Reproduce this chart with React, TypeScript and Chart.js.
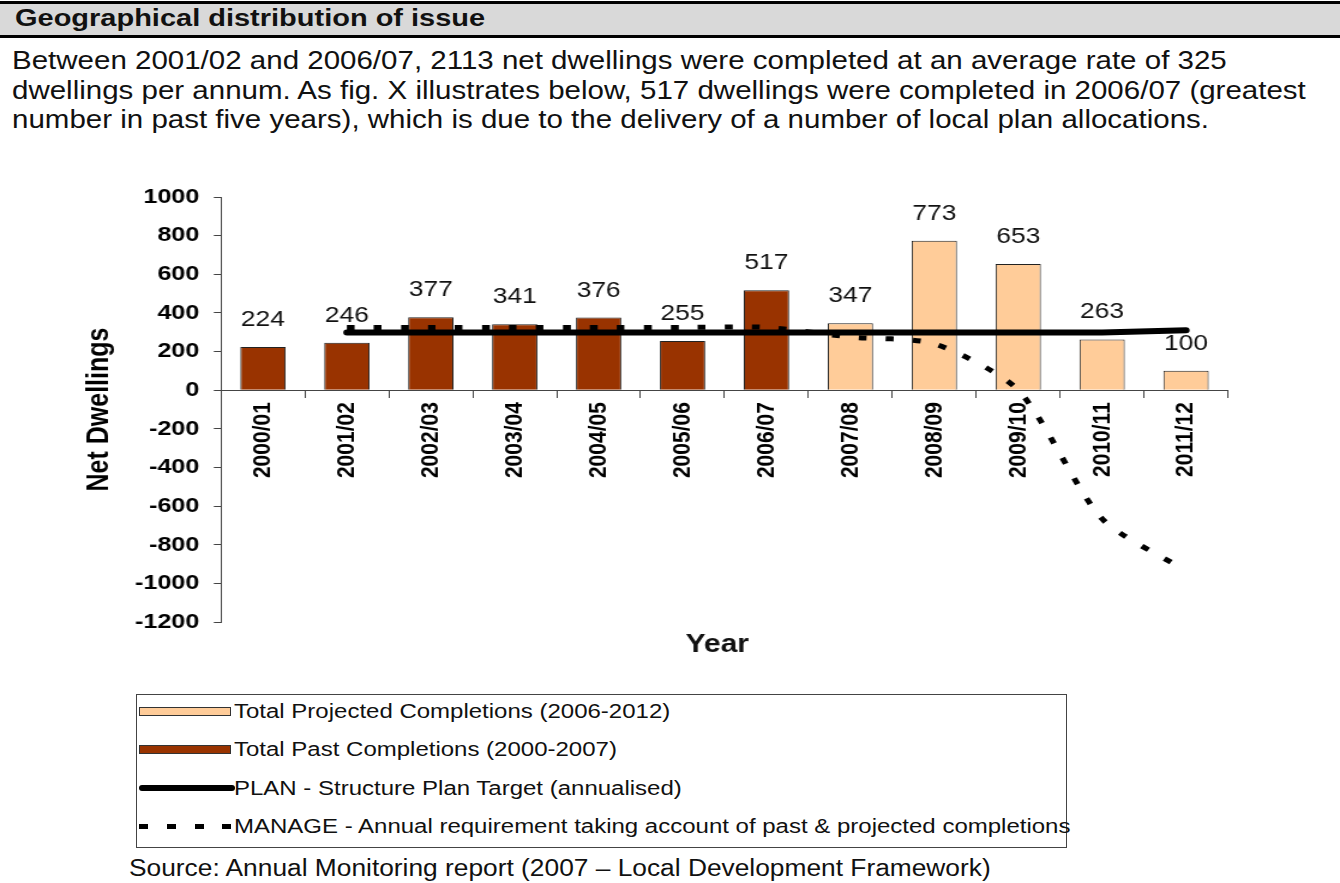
import React, { useEffect, useRef } from "react";
import { Chart, registerables } from "chart.js";

Chart.register(...registerables);

const categories = ["2000/01", "2001/02", "2002/03", "2003/04", "2004/05", "2005/06", "2006/07", "2007/08", "2008/09", "2009/10", "2010/11", "2011/12"];
const pastCompletions = [224, 246, 377, 341, 376, 255, 517, null, null, null, null, null];
const projectedCompletions = [null, null, null, null, null, null, null, 347, 773, 653, 263, 100];
const planTarget = [null, 298, 298, 298, 298, 298, 298, 298, 298, 298, 298, 310];
const manageRequirement = [null, 325, 325, 325, 325, 325, 325, 275, 240, 0, -666, -935];
const yMin = -1200;
const yMax = 1000;
const yStep = 200;

const FONT = "'Liberation Sans', Arial, sans-serif";
const PAST_COLOR = "#993300";
const PROJ_COLOR = "#ffcc99";

// canvas is drawn narrower and stretched horizontally, like the reference image
const CANVAS_W = 1117;
const CANVAS_H = 500;
const SX = 1340 / CANVAS_W;

const labelPlugin = {
  id: "barValueLabels",
  afterDatasetsDraw(chart: any) {
    const ctx = chart.ctx;
    ctx.save();
    ctx.font = `22px ${FONT}`;
    ctx.fillStyle = "#111";
    ctx.textAlign = "center";
    ctx.textBaseline = "middle";
    chart.data.datasets.forEach((ds: any, di: number) => {
      if (ds.type !== "bar") return;
      const meta = chart.getDatasetMeta(di);
      ds.data.forEach((v: any, i: number) => {
        if (v === null || v === undefined) return;
        const el = meta.data[i];
        ctx.fillText(String(v), el.x, el.y - 27);
      });
    });
    const area = chart.chartArea;
    ctx.font = `bold 25px ${FONT}`;
    ctx.fillText("Year", (area.left + area.right) / 2 - 6, area.bottom + 23);
    ctx.restore();
  },
};

function ChartCanvas() {
  const ref = useRef<HTMLCanvasElement | null>(null);
  useEffect(() => {
    if (!ref.current) return;
    const chart = new Chart(ref.current, {
      type: "bar",
      data: {
        labels: categories,
        datasets: [
          {
            type: "line",
            label: "PLAN - Structure Plan Target (annualised)",
            data: planTarget,
            borderColor: "#000",
            borderWidth: 6,
            pointRadius: 0,
            borderCapStyle: "round",
            tension: 0,
            order: 1,
          } as any,
          {
            type: "line",
            label: "MANAGE - Annual requirement taking account of past & projected completions",
            data: manageRequirement,
            borderColor: "#000",
            borderWidth: 5,
            borderDash: [6.5, 16],
            pointRadius: 0,
            tension: 0.25,
            order: 2,
          } as any,
          {
            type: "bar",
            label: "Total Projected Completions (2006-2012)",
            data: projectedCompletions,
            backgroundColor: PROJ_COLOR,
            borderColor: "#222",
            borderWidth: 1,
            grouped: false,
            barPercentage: 0.54,
            categoryPercentage: 1,
            order: 3,
          } as any,
          {
            type: "bar",
            label: "Total Past Completions (2000-2007)",
            data: pastCompletions,
            backgroundColor: PAST_COLOR,
            borderColor: "#222",
            borderWidth: 1,
            grouped: false,
            barPercentage: 0.54,
            categoryPercentage: 1,
            order: 3,
          } as any,
        ],
      },
      options: {
        animation: false,
        responsive: false,
        maintainAspectRatio: false,
        layout: { padding: { left: 0, right: CANVAS_W - 1228 / SX, top: 27, bottom: 48 } },
        plugins: {
          legend: { display: false },
          tooltip: { enabled: false },
        },
        scales: {
          x: {
            type: "category",
            position: { y: 0 } as any,
            offset: true,
            grid: { offset: true, drawOnChartArea: false, drawTicks: true, tickLength: 7, color: "#444" },
            border: { display: true, color: "#444", width: 1 },
            ticks: {
              autoSkip: false,
              maxRotation: 90,
              minRotation: 90,
              padding: 5,
              color: "#000",
              font: { family: FONT, size: 21, weight: "bold" },
            },
          },
          y: {
            min: yMin,
            max: yMax,
            afterFit: (s: any) => {
              s.width = 221 / SX;
            },
            grid: { drawOnChartArea: false, drawTicks: true, tickLength: 6, color: "#444" },
            border: { display: true, color: "#444", width: 1 },
            ticks: {
              stepSize: yStep,
              padding: 12,
              color: "#000",
              font: { family: FONT, size: 21, weight: "bold" },
              callback: (v: any) => String(v),
            },
            title: {
              display: true,
              text: "Net Dwellings",
              color: "#000",
              font: { family: FONT, size: 25, weight: "bold" },
              padding: { top: 68, bottom: 0 },
            },
          },
        },
      },
      plugins: [labelPlugin],
    });
    return () => chart.destroy();
  }, []);
  return (
    <canvas
      ref={ref}
      width={CANVAS_W}
      height={CANVAS_H}
      style={{ position: "absolute", left: 0, top: 170, width: 1340, height: CANVAS_H }}
    />
  );
}

function Stretched(props: { left: number; top: number; size: number; sx: number; bold?: boolean; lh?: number; children: React.ReactNode }) {
  return (
    <div
      style={{
        position: "absolute",
        left: props.left,
        top: props.top,
        fontSize: props.size,
        fontWeight: props.bold ? "bold" : "normal",
        lineHeight: `${props.lh ?? props.size * 1.15}px`,
        whiteSpace: "nowrap",
        transform: `scaleX(${props.sx})`,
        transformOrigin: "0 0",
      }}
    >
      {props.children}
    </div>
  );
}

function Legend() {
  const rows = [711, 749, 788, 826];
  const textLeft = 234;
  const swatch = (y: number, color: string) => (
    <div style={{ position: "absolute", left: 139, top: y - 4, width: 92, height: 9, background: color, border: "1px solid #333", boxSizing: "border-box" }} />
  );
  const text = (y: number, t: string) => (
    <Stretched left={textLeft} top={y - 12} size={20} sx={1.2} lh={24}>
      {t}
    </Stretched>
  );
  return (
    <>
      <div
        style={{
          position: "absolute",
          left: 136,
          top: 694,
          width: 931,
          height: 154,
          border: "1px solid #444",
          boxSizing: "border-box",
        }}
      />
      {swatch(rows[0], PROJ_COLOR)}
      {text(rows[0], "Total Projected Completions (2006-2012)")}
      {swatch(rows[1], PAST_COLOR)}
      {text(rows[1], "Total Past Completions (2000-2007)")}
      <div style={{ position: "absolute", left: 139, top: rows[2] - 3, width: 96, height: 6, background: "#000", borderRadius: 3 }} />
      {text(rows[2], "PLAN - Structure Plan Target (annualised)")}
      {[139, 167, 195, 222].map((x) => (
        <div key={x} style={{ position: "absolute", left: x, top: rows[3] - 2, width: 9, height: 5, background: "#000" }} />
      ))}
      {text(rows[3], "MANAGE - Annual requirement taking account of past & projected completions")}
    </>
  );
}

export default function App() {
  return (
    <div
      style={{
        position: "absolute",
        left: 0,
        top: 0,
        width: 1340,
        height: 883,
        background: "#fff",
        fontFamily: FONT,
        color: "#111",
        overflow: "hidden",
      }}
    >
      <div
        style={{
          position: "absolute",
          left: 0,
          top: 1,
          width: 1340,
          height: 37,
          boxSizing: "border-box",
          borderTop: "3px solid #000",
          borderBottom: "3px solid #000",
          background: "#d9d9d9",
        }}
      />
      <Stretched left={15} top={5} size={23} sx={1.26} bold lh={27}>
        Geographical distribution of issue
      </Stretched>
      <Stretched left={12} top={46} size={25} sx={1.18} lh={29.5}>
        <div>Between 2001/02 and 2006/07, 2113 net dwellings were completed at an average rate of 325</div>
        <div>dwellings per annum. As fig. X illustrates below, 517 dwellings were completed in 2006/07 (greatest</div>
        <div>number in past five years), which is due to the delivery of a number of local plan allocations.</div>
      </Stretched>
      <ChartCanvas />
      <Legend />
      <Stretched left={129} top={854} size={23.5} sx={1.12} lh={28}>
        Source: Annual Monitoring report (2007 – Local Development Framework)
      </Stretched>
    </div>
  );
}
